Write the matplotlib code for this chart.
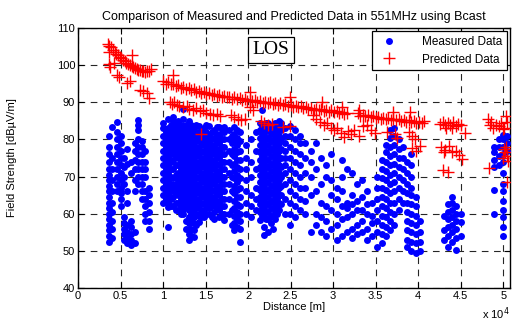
import matplotlib.pyplot as plt
import numpy as np

plt.rcParams['font.family'] = ['Liberation Sans', 'DejaVu Sans']

# measured data, stored as columns: distance [m] -> field strengths [dBuV/m]
meas_cols_x1 = [3600, 4000, 4600, 5000, 5400, 5800, 6200, 6700, 7100, 7500, 7900, 8300]
meas_cols_y1 = [
    [52.5, 54, 55.5, 57, 58.5, 60, 61.5, 63, 64.5, 66, 67.5, 69, 70.5, 72, 74, 76, 78, 81],
    [53.5, 56, 58, 60.5, 63, 66, 69, 72, 75, 83.3],
    [66, 68, 70, 72, 74, 76, 78, 80, 82, 84.7],
    [62, 64, 65.5, 67, 69, 71, 73, 75, 77, 79, 81],
    [53, 54.5, 56, 57.5, 59, 68, 70, 72.5, 75],
    [52, 53.5, 55, 57, 63, 66, 73.5, 77.5],
    [51.5, 53, 54.5, 56.5, 58, 71, 74],
    [52, 55, 66, 69, 72, 74.5, 77, 79],
    [68, 70, 72, 74, 76, 78, 80, 82.5, 83.8, 85.2],
    [64, 66, 68, 70, 72, 74, 76, 78, 79.5],
    [58, 60, 62, 64, 66, 70, 72, 74, 77],
    [56, 58, 60.5, 63, 65, 67],
]
meas_cols_x2 = [10000, 10300, 10600, 10900, 11200, 11500, 11800, 12100, 12400, 12700,
                13000, 13300, 13600, 13900, 14200, 14500, 14800, 15100, 15400, 15700,
                16000, 16300, 16600, 16900, 17200]
meas_cols_y2 = [
    [63, 65, 67, 69, 71, 73, 75, 77, 79, 81, 83, 84.5],
    [64, 66, 68, 70, 72, 74, 76, 78, 80, 82],
    [56.4, 61.8, 63, 65, 67, 69, 71, 73, 75, 77, 79, 81, 83, 85.5],
    [62, 64, 66, 68, 70, 72, 74, 76, 78, 80, 82, 84],
    [62, 64.5, 67, 69.5, 72, 74.5, 77, 79, 81, 83, 85, 86],
    [61, 63, 65.5, 68, 70.5, 73, 75.5, 78, 80, 82, 84],
    [61, 63, 65, 67, 69, 71, 73, 75, 77, 79, 81, 83, 85],
    [60, 62, 64, 66, 68, 70, 72, 74, 76, 78, 80, 82, 84],
    [60, 61, 63, 65, 67, 69, 71, 73, 75, 77, 79, 81, 83, 85.5, 88.3],
    [56, 58, 62, 64, 66, 68, 70, 72, 74, 76, 78, 80, 82, 84],
    [53, 54.5, 56, 57.5, 59, 61, 63, 65, 67, 69, 71, 73, 75, 77, 79, 81, 83, 85],
    [54, 56, 58, 60, 62, 64, 66, 68, 70, 72, 74, 76, 78, 80, 82, 84],
    [53.7, 55.5, 57.5, 59, 61, 63, 65, 67, 69, 71, 73, 75, 77, 79, 81, 83],
    [57, 60, 62, 64, 66, 68, 70, 72, 74, 76, 78, 80, 82, 84],
    [57.8, 59.5, 61.5, 63.5, 65.5, 67.5, 69.5, 71.5, 73.5, 75.5, 77.5, 79.5, 81.5, 83.5],
    [59, 60.5, 62.5, 64.5, 66.5, 68.5, 70.5, 72.5, 74.5, 76.5, 78.5, 80.5, 82.5],
    [59, 61, 63, 65, 67, 69, 71, 73, 75, 77, 79, 81, 83],
    [60, 62, 64, 66, 68, 70, 72, 74, 76, 78, 80, 82, 84],
    [60, 61.5, 63, 65, 67, 69, 71, 73, 75, 77, 79, 81, 83.5],
    [59, 62, 64, 66, 68, 70, 72, 74, 76, 78, 80, 82],
    [58.5, 60.5, 62.5, 64.5, 66.5, 68.5, 70.5, 72.5, 74.5, 76.5, 78.5, 80.5, 82.5],
    [61.5, 63.5, 65.5, 67.5, 69.5, 71.5, 73.5, 75.5, 77.5, 79.5, 81.5, 83.3],
    [59, 61, 63, 65, 67, 69, 71, 73, 75, 77, 79, 81, 83.3],
    [60, 62, 64, 66, 68, 70, 72, 74, 76, 78, 80, 82],
    [58.3, 60, 62, 64, 66, 68, 70, 72, 74, 76, 78, 80, 82, 83.3],
]
meas_cols_x3 = [17800, 18100, 18400, 18700, 19000, 19700, 20300, 20900, 21400, 21650,
                21900, 22150, 22400, 22650, 22900, 23150, 23400, 23650, 23900, 24400,
                24900, 25500, 26100, 26700]
meas_cols_y3 = [
    [60, 64, 68, 71, 74, 77, 80, 82.5],
    [57, 61, 66, 70, 73, 76, 79, 81],
    [55.6, 57.5, 59.5, 61.5, 63.5, 65.5, 67.5, 69.5, 71.5, 73.5, 75.5, 77.5, 79.5, 81.5, 83.3],
    [56.5, 58.5, 60.5, 62.5, 64.5, 66.5, 68.5, 70.5, 72.5, 74.5, 76.5, 78.5, 80.5, 82.5],
    [52.4, 56, 58, 60, 62, 64.5, 67, 69.5, 72, 74.5, 77, 79.5, 82],
    [60, 63, 66, 69, 72, 75, 78.5],
    [59, 62, 65, 70, 74, 80],
    [61, 64, 67, 72, 77, 82],
    [58.3, 60.5, 62.5, 64.5, 66.5, 68.5, 70.5, 72.5, 74.5, 76.5, 78.5, 80.5, 82.5, 84.4],
    [59.5, 61.5, 63.5, 65.5, 67.5, 69.5, 71.5, 73.5, 75.5, 77.5, 79.5, 81.5, 83.5, 88],
    [54.3, 56.4, 59.5, 61.5, 63.5, 65.5, 67.5, 69.5, 71.5, 73.5, 75.5, 77.5, 79.5, 81.5, 83.5],
    [58.5, 60.5, 62.5, 64.5, 66.5, 68.5, 70.5, 72.5, 74.5, 76.5, 78.5, 80.5, 82.5, 84.5],
    [55, 58.5, 60.5, 62.5, 64.5, 66.5, 68.5, 70.5, 72.5, 74.5, 76.5, 78.5, 80.5, 82.5, 84.5],
    [57.5, 59.5, 61.5, 63.5, 65.5, 67.5, 69.5, 71.5, 73.5, 75.5, 77.5, 79.5, 81.5, 83.5],
    [56, 59.5, 61.5, 63.5, 65.5, 67.5, 69.5, 71.5, 73.5, 75.5, 77.5, 79.5, 81.5, 83.5],
    [58.5, 60.5, 62.5, 64.5, 66.5, 68.5, 70.5, 72.5, 74.5, 76.5, 78.5, 80.5, 82.5, 84.5],
    [60, 62, 64, 66, 68, 70, 72, 74, 76, 78, 80, 82, 84],
    [61, 63, 65, 67, 69, 71, 73, 75, 77, 79, 81, 83, 85],
    [62.5, 65, 67.5, 70, 72.5, 75, 77.5, 80, 82.5, 84.5],
    [60, 64, 68, 71, 73, 75, 77, 79, 81, 83],
    [57, 60, 63, 66, 69, 72, 75, 78, 81, 83.5],
    [59, 62, 65, 68, 71, 74, 77, 80, 82.5],
    [61, 64, 67, 70, 73, 76, 79, 81],
    [60, 63.5, 67, 71, 75, 79],
]
meas_cols_x4 = [27400, 28000, 28600, 29200, 29800, 30400, 31000, 31600, 32200, 32800,
                33400, 34000, 34600, 35200, 35700, 36200, 36700, 37200, 37700, 38200,
                38700, 39200, 39700, 40200]
meas_cols_y4 = [
    [55, 65, 70, 74, 77],
    [57, 60, 66, 72, 79],
    [55, 59, 63, 68, 75],
    [54, 58, 62, 70, 73],
    [56, 61, 65, 69, 76],
    [53, 57, 60, 64, 67],
    [54, 58.5, 62, 66, 70, 74.5],
    [55, 59, 61.5, 63, 72],
    [53.5, 56, 60, 62.5, 65, 71],
    [54.5, 57, 61, 63.5, 68],
    [55, 58, 61, 64.5, 69],
    [53, 56, 60, 62.5, 66],
    [54, 57.5, 59.5, 63],
    [51, 55, 58, 61, 64, 67, 70],
    [52, 54.5, 57, 59.5, 62, 64.5, 67, 69.5, 72, 74.5],
    [54, 56.5, 59, 61.5, 64, 66.5, 69, 71.5, 74, 76.5, 78.5],
    [55.5, 58, 60.5, 63, 65.5, 68, 70.5, 73, 75.5, 78, 80.5, 82.5],
    [57, 60, 63, 66, 68.5, 71, 73.5, 76, 78.5, 81, 83],
    [61, 64, 67, 70, 72.5, 75, 77.5, 80],
    [63, 66, 69, 72, 75, 78],
    [51, 53, 55.5, 58, 60.5, 63, 65.5, 68, 71, 74],
    [50, 52.5, 55, 57.5, 60, 62.5, 65, 67, 70, 73, 76],
    [49.5, 52, 54.5, 57, 59.5, 62, 64.5],
    [50, 52.5, 55, 58],
]
meas_cols_x5 = [43000, 43500, 44000, 44500, 45000, 48900, 49500, 50000, 50400]
meas_cols_y5 = [
    [53, 55.5, 59.5],
    [51, 54, 56.5, 58.5, 60.5, 62.5],
    [52.5, 55, 57, 59, 61, 63, 64.5],
    [50.2, 53.5, 56, 58, 60, 62],
    [54, 57.8, 60],
    [60, 66.4, 72.6, 74.5, 76.5, 78],
    [73, 75.5, 78, 80],
    [54, 56.5, 59, 61, 63.5, 66, 68, 71, 74, 76, 78, 80, 81.2],
    [77, 79, 81],
]

# predicted data (Bcast)
pred_x1 = [3500, 3700, 3900, 4100, 4300, 4500, 4700, 4900, 5100, 5300, 5500, 5700, 5900,
           6100, 6300, 6500, 6700, 6900, 7100, 7300, 7500, 7700, 7900, 8100, 8300, 8600,
           6400, 3600, 3600, 3800, 4200, 4600, 4800, 5800, 6100, 7300, 7700, 8100, 8300]
pred_y1 = [105.7, 105.2, 104.8, 104.0, 103.5, 103.0, 102.6, 102.2, 101.8, 101.5, 101.0,
           100.7, 100.3, 100.0, 99.8, 99.5, 99.2, 99.0, 98.8, 98.6, 98.5, 98.3, 98.2,
           98.3, 98.5, 98.9,
           102.7, 103.5, 100.2, 99.4, 100.6, 97.3, 96.8, 95.2, 95.8, 93.3, 93.0, 92.4, 91.2]
pred_x2 = [10000, 10300, 10600, 10900, 11200, 11500, 11800, 12100, 12400, 12700, 13000,
           13300, 13600, 13900, 14200, 14500, 14800, 15100, 15400, 15700, 16000, 16300,
           16600, 16900, 17200, 17500, 17800, 18100, 18400, 18700, 19000, 19300, 19600,
           19900, 20200, 20500, 20800, 21100, 21400, 21700, 22000, 22300, 22600, 22900,
           23200, 23500, 23800, 24100, 24400, 24700, 25000, 25300, 25600, 25900, 26200,
           26500, 26800, 27100, 27400, 27700, 28000, 28300, 28600, 28900, 29200, 29500,
           29800, 30100, 30400, 30700, 31000, 31300, 31600]
pred_y2 = [95.8, 95.0, 95.5, 94.8, 95.0, 94.3, 94.6, 93.9, 94.2, 93.6, 93.8, 93.2, 93.5,
           92.9, 93.1, 92.6, 92.8, 92.3, 92.6, 92.0, 92.3, 91.8, 92.0, 91.5, 91.8, 91.3,
           91.5, 91.0, 91.3, 90.8, 91.1, 90.6, 90.9, 90.4, 90.7, 90.3, 90.5, 90.1, 90.4,
           89.9, 90.2, 89.8, 90.0, 89.6, 89.9, 89.4, 89.7, 89.2, 89.5, 89.0, 89.3, 88.8,
           89.1, 88.6, 88.9, 88.4, 88.7, 88.2, 88.5, 88.0, 88.3, 87.9, 88.1, 87.7, 88.0,
           87.5, 87.8, 87.3, 87.6, 87.1, 87.4, 86.9, 87.2]
pred_x3 = [32900, 33200, 33500, 33800, 34100, 34400, 34700, 35000, 35300, 35600, 35900,
           36200, 36500, 36800, 37100, 37400, 37700, 38000, 38300, 38600, 38900, 39200,
           39500, 39800, 40100, 40400, 40700,
           11200, 20200, 24900, 28700, 37000, 39000, 31000, 33000]
pred_y3 = [87.0, 86.4, 86.7, 86.2, 86.5, 86.0, 86.3, 85.8, 86.1, 85.6, 85.9, 85.4, 85.7,
           85.3, 85.5, 85.1, 85.4, 84.9, 85.2, 84.8, 85.1, 84.6, 84.9, 84.5, 84.8, 84.4,
           84.9,
           97.3, 92.8, 91.4, 90.1, 87.3, 87.3, 88.6, 88.0]
pred_x4 = [10800, 11000, 11300, 11600, 11900, 12300, 12800, 13100, 13500, 13900, 14300,
           14700, 15100, 15500, 15900, 16300, 16700, 18000, 18400, 18800, 19200, 19600,
           20200, 20600, 21500, 21900, 22400, 22800, 24100, 24900, 14500,
           27600, 28000, 28500, 28900, 29300, 29700, 30100, 30500, 30900, 31300, 31700,
           32100, 32500, 33000, 33500, 34000, 34400, 34900, 36300, 37300, 37500, 38900,
           39300, 39600, 39300, 39700, 40200]
pred_y4 = [90.0, 89.6, 90.2, 89.4, 89.0, 88.6, 88.9, 88.3, 88.0, 88.4, 87.6, 87.9, 87.2,
           86.9, 86.5, 86.8, 86.2, 86.5, 86.0, 85.6, 85.2, 85.5, 88.6, 87.8, 85.0, 84.4,
           83.8, 84.2, 83.3, 83.7, 81.4,
           86.6, 85.6, 84.8, 83.8, 84.5, 83.2, 82.5, 83.0, 81.8, 80.6, 82.2, 81.5, 82.5,
           81.0, 83.5, 84.0, 82.5, 81.7, 82.0, 81.5, 80.4, 82.0, 81.0, 80.2, 77.7, 76.8,
           78.2]
pred_x5 = [42600, 42900, 43200, 43500, 43800, 44100, 44400, 44700, 45000, 43300, 44000,
           45500, 42700, 43200, 43600, 44000, 44400, 44800, 45100, 43000, 43500, 42900,
           48200, 48400, 48800, 49200, 49500, 49800, 50100, 50300, 50500, 50000, 48600,
           50200, 50400, 50600, 50000, 50300, 48300, 50400, 50100]
pred_y5 = [84.2, 84.6, 83.8, 84.4, 84.0, 84.7, 83.6, 84.2, 83.9, 83.2, 83.1, 81.7,
           78.0, 77.2, 78.2, 76.6, 77.0, 75.8, 74.8, 76.5, 71.3, 71.8,
           85.6, 84.0, 83.2, 84.0, 83.5, 84.5, 83.2, 86.2, 84.8, 82.7, 84.6,
           76.6, 75.5, 74.2, 75.0, 78.0, 72.3, 68.5, 77.3]

x_ticks = [0, 5000, 10000, 15000, 20000, 25000, 30000, 35000, 40000, 45000, 50000]
x_tick_labels = ['0', '0.5', '1', '1.5', '2', '2.5', '3', '3.5', '4', '4.5', '5']
y_ticks = [40, 50, 60, 70, 80, 90, 100, 110]


def flatten(cols_x, cols_y):
    xs, ys = [], []
    for cx, col in zip(cols_x, cols_y):
        xs += [cx] * len(col)
        ys += col
    return xs, ys


meas_x, meas_y = [], []
for cx, cy in [(meas_cols_x1, meas_cols_y1), (meas_cols_x2, meas_cols_y2),
               (meas_cols_x3, meas_cols_y3), (meas_cols_x4, meas_cols_y4),
               (meas_cols_x5, meas_cols_y5)]:
    fx, fy = flatten(cx, cy)
    meas_x += fx
    meas_y += fy

pred_x = pred_x1 + pred_x2 + pred_x3 + pred_x4 + pred_x5
pred_y = pred_y1 + pred_y2 + pred_y3 + pred_y4 + pred_y5

fig = plt.figure(figsize=(5.12, 3.24), dpi=100)
ax = fig.add_axes([78 / 512, 1 - 288 / 324, 432 / 512, 260 / 324])

ax.plot(meas_x, meas_y, 'o', color='#0000ff', ms=5, mec='#0000ff', mew=0,
        label='Measured Data', zorder=3)
ax.plot(pred_x, pred_y, '+', color='#ff0000', ms=8, mew=1.0,
        label='Predicted Data', zorder=4)

ax.set_xlim(0, 50800)
ax.set_ylim(40, 110)
ax.set_xticks(x_ticks)
ax.set_xticklabels(x_tick_labels)
ax.set_yticks(y_ticks)
ax.tick_params(direction='in', top=True, right=True, labelsize=8, length=4, width=0.8,
               pad=2)
ax.grid(True, color='0.15', linestyle=(0, (6, 5)), linewidth=0.8, zorder=1)
ax.set_axisbelow(True)
for sp in ax.spines.values():
    sp.set_linewidth(1.0)

ax.set_title('Comparison of Measured and Predicted Data in 551MHz using Bcast',
             fontsize=9, pad=6)
ax.set_xlabel('Distance [m]', fontsize=8, labelpad=1)
ax.set_ylabel('Field Strength [dBµV/m]', fontsize=8)
ax.yaxis.set_label_coords(-0.142, 0.5)
fig.text(0.942, 0.018, r'x 10$^4$', fontsize=8)

ax.text(22700, 104.1, 'LOS', family='Liberation Serif', fontsize=14, ha='center',
        va='center', bbox=dict(boxstyle='square,pad=0.25', fc='white', ec='black', lw=0.9))

leg = ax.legend(loc='upper right', fontsize=8.5, frameon=True, fancybox=False,
                edgecolor='black', borderaxespad=0.25, handletextpad=1.8,
                handlelength=2.0, borderpad=0.4, labelspacing=0.5)
leg.get_frame().set_linewidth(0.9)
leg.get_frame().set_alpha(1)

plt.savefig('out.png', dpi=100)
